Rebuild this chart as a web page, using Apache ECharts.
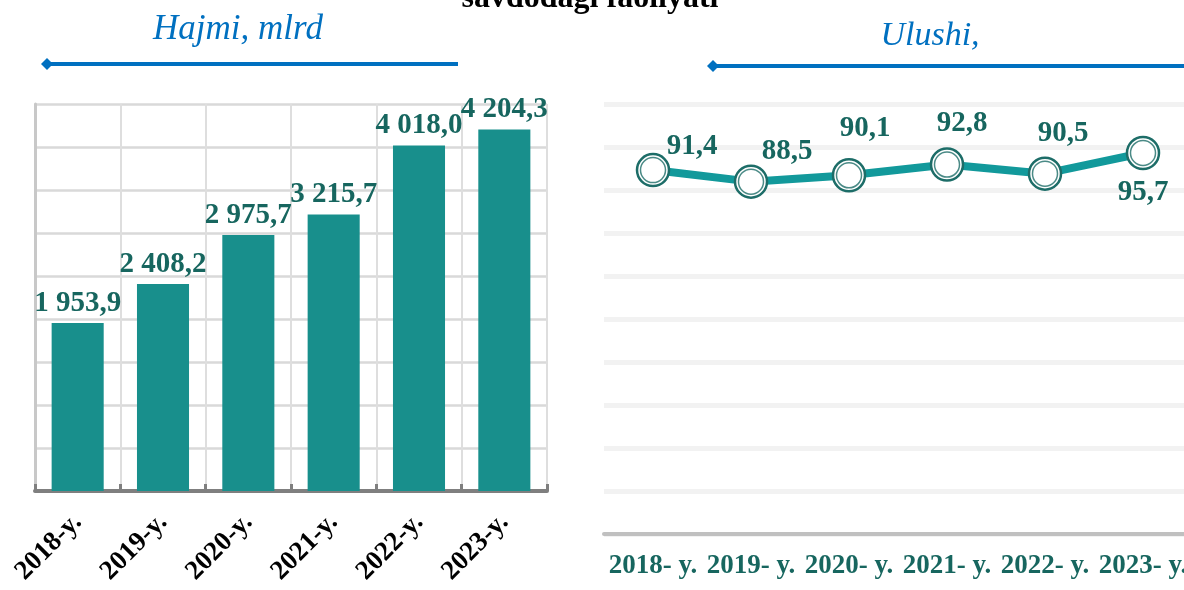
<!DOCTYPE html>
<html>
<head>
<meta charset="utf-8">
<script src="https://cdn.jsdelivr.net/npm/echarts@6/dist/echarts.min.js"></script>
<style>
  html, body { margin: 0; padding: 0; background: #fff; overflow: hidden; }
  #chart { width: 1200px; height: 590px; }
</style>
</head>
<body>
<div id="chart"></div>
<script>
// Hajmi (bar) va Ulushi (line) ma'lumotlari
const barYears = ['2018-y.', '2019-y.', '2020-y.', '2021-y.', '2022-y.', '2023-y.'];
const barValues = [1953.9, 2408.2, 2975.7, 3215.7, 4018.0, 4204.3];
const lineYears = ['2018- y.', '2019- y.', '2020- y.', '2021- y.', '2022- y.', '2023- y.'];
const lineValues = [91.4, 88.5, 90.1, 92.8, 90.5, 95.7];

const serif = '"Liberation Serif", "DejaVu Serif", serif';
const tealDark = '#17665f';
const blue = '#0070c0';

// 1 953,9 ko'rinishida format
function fmt(v) {
    const parts = v.toFixed(1).split('.');
    const int = parts[0].replace(/\B(?=(\d{3})+(?!\d))/g, ' ');
    return int + ',' + parts[1];
}

// har bir nuqta yorlig'ining siljishi
const lineLabelOffsets = [[39, -24], [36, -30], [16, -47], [15, -41], [18, -40], [0, 40]];

var dom = document.getElementById('chart');
var myChart = echarts.init(dom, null, { renderer: 'canvas' });

var option = {
    animation: false,
    grid: [
        { left: 35, top: 104, width: 512, height: 387 },
        { left: 604, top: 104, width: 588, height: 430 }
    ],
    xAxis: [
        {
            type: 'category', gridIndex: 0, data: barYears,
            axisLine: { show: true, lineStyle: { color: '#7f7f7f', width: 4 } },
            axisTick: { show: true, inside: true, length: 7, lineStyle: { color: '#7f7f7f', width: 3 } },
            splitLine: { show: true, interval: 0, lineStyle: { color: '#dedede', width: 2 } },
            axisLabel: {
                rotate: 45, margin: 27, interval: 0,
                color: '#000', fontFamily: serif, fontWeight: 'bold', fontSize: 27
            }
        },
        {
            type: 'category', gridIndex: 1, data: lineYears,
            axisLine: { show: true, lineStyle: { color: '#c0c0c0', width: 4 } },
            axisTick: { show: false },
            axisLabel: {
                margin: 19, interval: 0,
                color: tealDark, fontFamily: serif, fontWeight: 'bold', fontSize: 27
            }
        }
    ],
    yAxis: [
        {
            type: 'value', gridIndex: 0, min: 0, max: 4500, interval: 500,
            axisLine: { show: true, lineStyle: { color: '#c8c8c8', width: 3 } },
            axisTick: { show: false },
            axisLabel: { show: false },
            splitLine: { lineStyle: { color: '#d9d9d9', width: 2.5 } }
        },
        {
            type: 'value', gridIndex: 1, min: 0, max: 108, interval: 10.8,
            axisLine: { show: false },
            axisTick: { show: false },
            axisLabel: { show: false },
            splitLine: { lineStyle: { color: '#f2f2f2', width: 5 } }
        }
    ],
    graphic: [
        { type: 'text', x: 590, y: -17, style: { text: 'savdodagi faoliyati', font: 'bold 32px ' + serif, fill: '#000', align: 'center', verticalAlign: 'top' } },
        { type: 'text', x: 238, y: 30, style: { text: 'Hajmi, mlrd', font: 'italic 35px ' + serif, fill: blue, align: 'center', verticalAlign: 'middle' } },
        { type: 'text', x: 930, y: 36, style: { text: 'Ulushi,', font: 'italic 34px ' + serif, fill: blue, align: 'center', verticalAlign: 'middle' } },
        { type: 'line', shape: { x1: 46, y1: 64, x2: 458, y2: 64 }, style: { stroke: blue, lineWidth: 4 } },
        { type: 'polygon', shape: { points: [[41, 64], [47, 58], [53, 64], [47, 70]] }, style: { fill: blue } },
        { type: 'line', shape: { x1: 714, y1: 66, x2: 1200, y2: 66 }, style: { stroke: blue, lineWidth: 4 } },
        { type: 'polygon', shape: { points: [[707, 66], [713, 60], [719, 66], [713, 72]] }, style: { fill: blue } }
    ],
    series: [
        {
            type: 'bar', xAxisIndex: 0, yAxisIndex: 0, data: barValues,
            barWidth: '61%',
            itemStyle: { color: '#188f8c' },
            label: {
                show: true, position: 'top', distance: 5,
                color: tealDark, fontFamily: serif, fontWeight: 'bold', fontSize: 29,
                formatter: p => fmt(p.value)
            }
        },
        {
            type: 'line', xAxisIndex: 1, yAxisIndex: 1,
            data: lineValues.map((v, i) => ({
                value: v,
                label: { offset: lineLabelOffsets[i] }
            })),
            lineStyle: { color: '#12999b', width: 8 },
            symbol: 'circle', symbolSize: 32,
            itemStyle: { color: '#fff', borderColor: '#1d6d68', borderWidth: 2.5 },
            label: {
                show: true, position: 'inside',
                color: tealDark, fontFamily: serif, fontWeight: 'bold', fontSize: 29,
                formatter: p => fmt(p.value)
            },
            z: 3
        },
        {
            type: 'scatter', xAxisIndex: 1, yAxisIndex: 1, data: lineValues,
            symbol: 'circle', symbolSize: 25,
            itemStyle: { color: '#fff', borderColor: '#1d6d68', borderWidth: 1.5 },
            z: 4
        }
    ]
};

if (option && typeof option === 'object') {
    myChart.setOption(option);
}
</script>
</body>
</html>
